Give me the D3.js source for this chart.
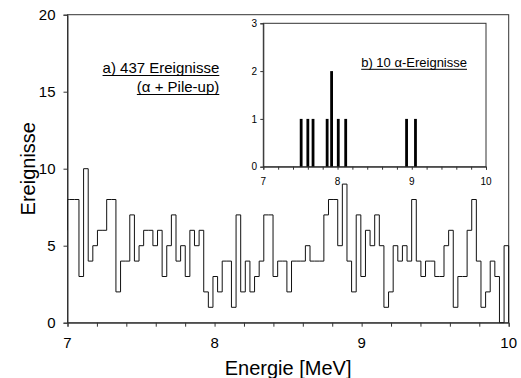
<!DOCTYPE html>
<html><head><meta charset="utf-8">
<script src="https://cdn.jsdelivr.net/npm/d3@7"></script>
<style>body{margin:0;background:#fff}svg{display:block;font-family:"Liberation Sans",Arial,sans-serif}</style>
</head><body><svg id="c" width="521" height="378"></svg>
<script>
// ---- data ----
const counts = [8,8,8, 3,10,4,5,6,6,8,8,2,4, 4,7,4,5,6,6,5,6,3,5, 7,4,5,3,6,5,6,2,1,3,
  2,4,4,1,7,2,4,2,3,4, 7,7,3,4,4,2,4,4,4,5, 4,4,4,7,8,8,5,9,4,2, 7,3,6,5,7,5,1,2,5,4,
  5,4,8,4,3,4,4,3,3,5, 6,1,3,3,6,8,4,1,2,4, 3,0,5];
const leadIn = 6;           // level of the step before 7 MeV
const binWidth = 0.03142;   // MeV
const lastEdge = 10;
const xTicksMain = [7,8,9,10];
const yTicksMain = [0,5,10,15,20];
const alphaE = [7.51,7.60,7.67,7.86,7.92,8.01,8.11,8.93,9.05];
const alphaN = [1,1,1,1,2,1,1,1,1];
const xTicksInset = [7,8,9,10];
const yTicksInset = [0,1,2,3];

const svg = d3.select("#c");
const col = "#333";

// ---- main scales ----
const x = d3.scaleLinear().domain([7,10]).range([67.5,508.7]);
const y = d3.scaleLinear().domain([0,20]).range([322.7,14.7]);

// frame
svg.append("rect").attr("x",x(7)).attr("y",y(20)).attr("width",x(10)-x(7)).attr("height",y(0)-y(20))
  .attr("fill","none").attr("stroke",col).attr("stroke-width",1);

// histogram step path
const N = counts.length;
const e0 = lastEdge - N*binWidth;
const pts = [[7, leadIn],[7, counts[0]]];
counts.forEach((c,i)=>{
  const right = e0 + (i+1)*binWidth;
  pts.push([Math.max(7,right), c]);
  if(i<N-1) pts.push([Math.max(7,right), counts[i+1]]);
});
pts.push([10,0]);
svg.append("path").attr("d", d3.line().x(d=>x(d[0])).y(d=>y(d[1]))(pts))
  .attr("fill","none").attr("stroke","#111").attr("stroke-width",1);

// axes
const xAx = d3.axisBottom(x).tickValues(d3.range(7,10.001,0.2)).tickSize(4).tickFormat("");
svg.append("g").attr("transform",`translate(0,${y(0)})`).call(xAx)
  .call(g=>{g.select(".domain").attr("stroke",col);g.selectAll("line").attr("stroke",col);});
svg.append("g").selectAll("text").data(xTicksMain).join("text")
  .attr("x",d=>x(d)).attr("y",348).attr("text-anchor","middle").attr("font-size",15).text(d=>d);
const yAx = d3.axisLeft(y).tickValues(yTicksMain).tickSize(4).tickFormat("");
svg.append("g").attr("transform",`translate(${x(7)},0)`).call(yAx)
  .call(g=>{g.select(".domain").attr("stroke",col);g.selectAll("line").attr("stroke",col);});
svg.append("g").selectAll("text").data(yTicksMain).join("text")
  .attr("x",55.5).attr("y",d=>y(d)+5.5).attr("text-anchor","end").attr("font-size",15).text(d=>d);

svg.append("text").attr("x",(x(7)+x(10))/2).attr("y",374.5).attr("text-anchor","middle")
  .attr("font-size",20).text("Energie [MeV]");
svg.append("text").attr("transform",`translate(35,${(y(0)+y(20))/2}) rotate(-90)`)
  .attr("text-anchor","middle").attr("font-size",20).text("Ereignisse");

function ulText(tx,ty,txt,size,ulY){
  const t = svg.append("text").attr("x",tx).attr("y",ty).attr("text-anchor","end")
    .attr("font-size",size).text(txt);
  const w = t.node().getComputedTextLength();
  svg.append("line").attr("x1",tx-w).attr("x2",tx).attr("y1",ulY).attr("y2",ulY)
    .attr("stroke","#000").attr("stroke-width",1);
}
ulText(219.3,73,"a) 437 Ereignisse",15,75.5);
ulText(219.3,92,"(α + Pile-up)",15,94.5);

// ---- inset ----
const xi = d3.scaleLinear().domain([7,10]).range([263.3,486]);
const yi = d3.scaleLinear().domain([0,3]).range([166.7,23.3]);
svg.append("rect").attr("x",xi(7)).attr("y",yi(3)).attr("width",xi(10)-xi(7)).attr("height",yi(0)-yi(3))
  .attr("fill","#fff").attr("stroke",col).attr("stroke-width",1);
svg.append("g").selectAll("rect").data(alphaE).join("rect")
  .attr("x",d=>xi(d)-1.4).attr("width",2.8)
  .attr("y",(d,i)=>yi(alphaN[i])).attr("height",(d,i)=>yi(0)-yi(alphaN[i])).attr("fill","#000");
const xiAx = d3.axisBottom(xi).tickValues(d3.range(7,10.001,0.2)).tickSize(3).tickFormat("");
svg.append("g").attr("transform",`translate(0,${yi(0)})`).call(xiAx)
  .call(g=>{g.select(".domain").attr("stroke",col);g.selectAll("line").attr("stroke",col);});
const yiAx = d3.axisLeft(yi).tickValues(yTicksInset).tickSize(3).tickFormat("");
svg.append("g").attr("transform",`translate(${xi(7)},0)`).call(yiAx)
  .call(g=>{g.select(".domain").attr("stroke",col);g.selectAll("line").attr("stroke",col);});
svg.append("g").selectAll("text").data(xTicksInset).join("text")
  .attr("x",d=>xi(d)).attr("y",185).attr("text-anchor","middle").attr("font-size",10).text(d=>d);
svg.append("g").selectAll("text").data(yTicksInset).join("text")
  .attr("x",257).attr("y",d=>yi(d)+3.6).attr("text-anchor","end").attr("font-size",10).text(d=>d);
ulText(467,66.7,"b) 10 α-Ereignisse",13,69.3);
</script></body></html>
